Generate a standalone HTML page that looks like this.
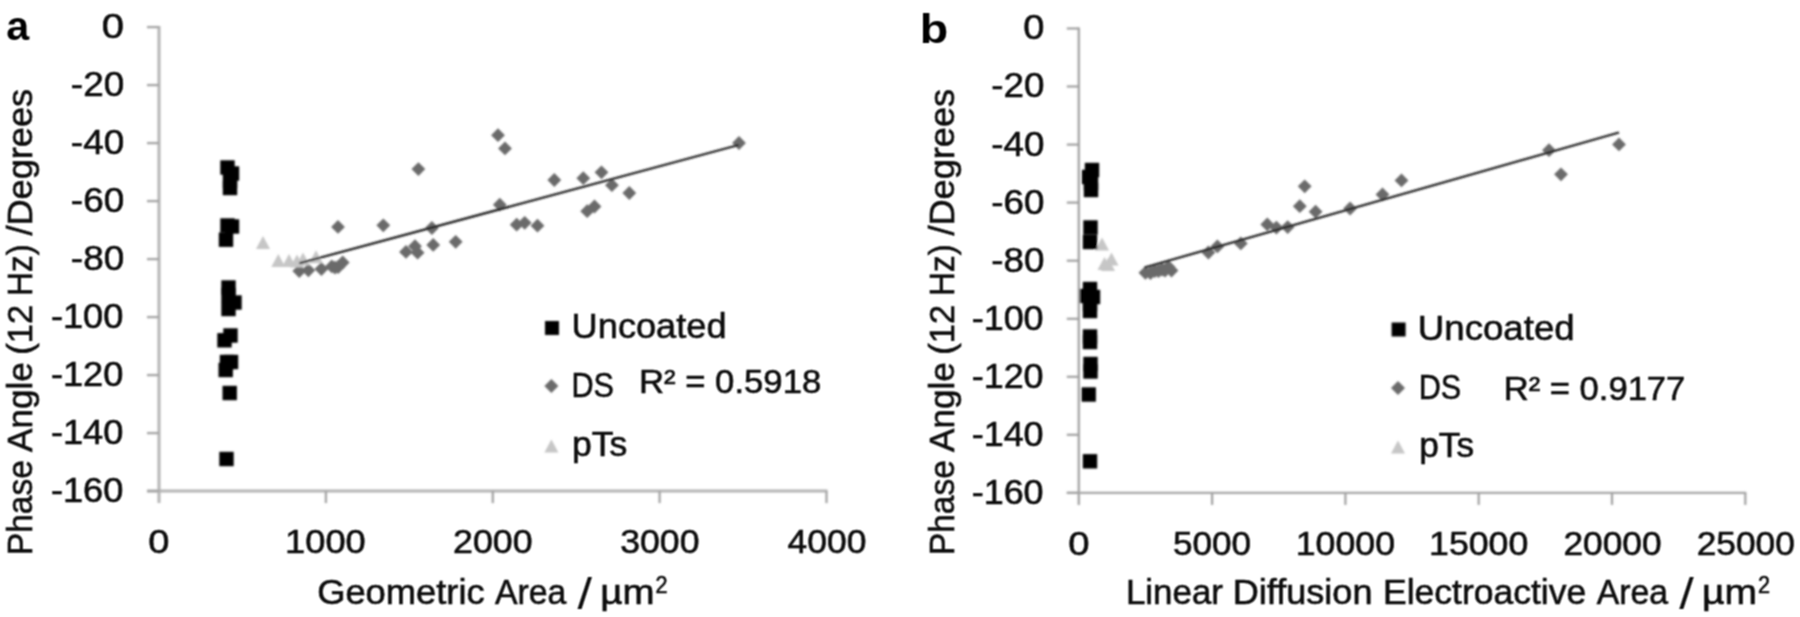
<!DOCTYPE html>
<html lang="en"><head><meta charset="utf-8"><title>Phase angle vs area</title>
<style>html,body{margin:0;padding:0;background:#fff}body{width:1800px;height:617px;overflow:hidden}svg{display:block}text{font-family:"Liberation Sans",sans-serif;fill:#111;stroke:#111;stroke-width:0.6px}.b{font-weight:bold;fill:#000;stroke:none}.n{stroke:none}</style></head><body>
<svg width="1800" height="617" viewBox="0 0 1800 617">
<defs><filter id="bl" x="-5%" y="-5%" width="110%" height="110%"><feConvolveMatrix order="3" kernelMatrix="1 2 1 2 4 2 1 2 1" divisor="16" edgeMode="duplicate" preserveAlpha="false"/><feConvolveMatrix order="3" kernelMatrix="1 2 1 2 4 2 1 2 1" divisor="16" edgeMode="duplicate" preserveAlpha="false"/></filter><filter id="bt" x="-5%" y="-5%" width="110%" height="110%"><feConvolveMatrix order="3" kernelMatrix="1 2 1 2 4 2 1 2 1" divisor="16" edgeMode="duplicate" preserveAlpha="false"/></filter></defs>
<rect width="1800" height="617" fill="#fff"/>
<g filter="url(#bl)">
<g stroke="#b4b4b4" stroke-width="3.0" fill="none"><path d="M159.0 26.1V503.1"/><path d="M147.0 491.1H827.5"/><path d="M147.0 27.1H159.0" stroke-width="2.3" stroke="#a4a4a4"/><path d="M147.0 85.1H159.0" stroke-width="2.3" stroke="#a4a4a4"/><path d="M147.0 143.1H159.0" stroke-width="2.3" stroke="#a4a4a4"/><path d="M147.0 201.1H159.0" stroke-width="2.3" stroke="#a4a4a4"/><path d="M147.0 259.1H159.0" stroke-width="2.3" stroke="#a4a4a4"/><path d="M147.0 317.1H159.0" stroke-width="2.3" stroke="#a4a4a4"/><path d="M147.0 375.1H159.0" stroke-width="2.3" stroke="#a4a4a4"/><path d="M147.0 433.1H159.0" stroke-width="2.3" stroke="#a4a4a4"/><path d="M147.0 491.1H159.0" stroke-width="2.3" stroke="#a4a4a4"/><path d="M325.9 491.1V503.1" stroke-width="2.3" stroke="#a4a4a4"/><path d="M492.8 491.1V503.1" stroke-width="2.3" stroke="#a4a4a4"/><path d="M659.6 491.1V503.1" stroke-width="2.3" stroke="#a4a4a4"/><path d="M826.5 491.1V503.1" stroke-width="2.3" stroke="#a4a4a4"/></g>
<g stroke="#a6a6a6" stroke-width="2.4" fill="none"><path d="M1078.8 27.5V504.9"/><path d="M1066.8 492.9H1746.3"/><path d="M1066.8 28.5H1078.8" stroke-width="2.2" stroke="#a0a0a0"/><path d="M1066.8 86.5H1078.8" stroke-width="2.2" stroke="#a0a0a0"/><path d="M1066.8 144.6H1078.8" stroke-width="2.2" stroke="#a0a0a0"/><path d="M1066.8 202.6H1078.8" stroke-width="2.2" stroke="#a0a0a0"/><path d="M1066.8 260.7H1078.8" stroke-width="2.2" stroke="#a0a0a0"/><path d="M1066.8 318.8H1078.8" stroke-width="2.2" stroke="#a0a0a0"/><path d="M1066.8 376.8H1078.8" stroke-width="2.2" stroke="#a0a0a0"/><path d="M1066.8 434.8H1078.8" stroke-width="2.2" stroke="#a0a0a0"/><path d="M1066.8 492.9H1078.8" stroke-width="2.2" stroke="#a0a0a0"/><path d="M1212.1 492.9V504.9" stroke-width="2.2" stroke="#a0a0a0"/><path d="M1345.4 492.9V504.9" stroke-width="2.2" stroke="#a0a0a0"/><path d="M1478.7 492.9V504.9" stroke-width="2.2" stroke="#a0a0a0"/><path d="M1612.0 492.9V504.9" stroke-width="2.2" stroke="#a0a0a0"/><path d="M1745.3 492.9V504.9" stroke-width="2.2" stroke="#a0a0a0"/></g>
<g fill="#6b6b6b"><path d="M338.0 220.0L344.9 226.9L338.0 233.8L331.1 226.9Z"/><path d="M383.3 218.4L390.2 225.3L383.3 232.2L376.4 225.3Z"/><path d="M299.3 264.1L306.2 271.0L299.3 277.9L292.4 271.0Z"/><path d="M308.4 263.4L315.3 270.3L308.4 277.2L301.5 270.3Z"/><path d="M321.4 262.1L328.3 269.0L321.4 275.9L314.5 269.0Z"/><path d="M331.8 259.5L338.7 266.4L331.8 273.3L324.9 266.4Z"/><path d="M335.0 260.7L341.9 267.6L335.0 274.5L328.1 267.6Z"/><path d="M338.2 260.1L345.1 267.0L338.2 273.9L331.3 267.0Z"/><path d="M342.7 255.6L349.6 262.5L342.7 269.4L335.8 262.5Z"/><path d="M418.4 162.2L425.3 169.1L418.4 176.0L411.5 169.1Z"/><path d="M406.0 245.0L412.9 251.9L406.0 258.8L399.1 251.9Z"/><path d="M415.0 239.3L421.9 246.2L415.0 253.1L408.1 246.2Z"/><path d="M417.6 245.8L424.5 252.7L417.6 259.6L410.7 252.7Z"/><path d="M431.9 221.1L438.8 228.0L431.9 234.9L425.0 228.0Z"/><path d="M433.2 238.0L440.1 244.9L433.2 251.8L426.3 244.9Z"/><path d="M455.7 234.9L462.6 241.8L455.7 248.7L448.8 241.8Z"/><path d="M498.0 128.3L504.9 135.2L498.0 142.1L491.1 135.2Z"/><path d="M505.0 141.5L511.9 148.4L505.0 155.3L498.1 148.4Z"/><path d="M499.8 197.8L506.7 204.7L499.8 211.6L492.9 204.7Z"/><path d="M516.7 217.8L523.6 224.7L516.7 231.6L509.8 224.7Z"/><path d="M524.7 215.9L531.6 222.8L524.7 229.7L517.8 222.8Z"/><path d="M537.5 218.8L544.4 225.7L537.5 232.6L530.6 225.7Z"/><path d="M554.3 173.1L561.2 180.0L554.3 186.9L547.4 180.0Z"/><path d="M583.3 171.3L590.2 178.2L583.3 185.1L576.4 178.2Z"/><path d="M601.5 165.4L608.4 172.3L601.5 179.2L594.6 172.3Z"/><path d="M611.9 178.3L618.8 185.2L611.9 192.1L605.0 185.2Z"/><path d="M629.3 186.1L636.2 193.0L629.3 199.9L622.4 193.0Z"/><path d="M587.2 204.3L594.1 211.2L587.2 218.1L580.3 211.2Z"/><path d="M594.5 199.6L601.4 206.5L594.5 213.4L587.6 206.5Z"/><path d="M739.0 136.1L745.9 143.0L739.0 149.9L732.1 143.0Z"/></g>
<g fill="#c6c6c6"><path d="M263.0 236.1L270.0 249.1L256.0 249.1Z"/><path d="M278.3 253.9L285.3 266.9L271.3 266.9Z"/><path d="M289.0 253.9L296.0 266.9L282.0 266.9Z"/><path d="M297.0 254.5L304.0 267.5L290.0 267.5Z"/><path d="M303.0 252.5L310.0 265.5L296.0 265.5Z"/><path d="M316.0 250.3L323.0 263.3L309.0 263.3Z"/></g>
<path d="M299.3 263.3L738.5 145" stroke="#1a1a1a" stroke-width="2.2" fill="none"/>
<g fill="#000"><rect x="220.3" y="160.3" width="14.4" height="14.4"/><rect x="224.8" y="166.3" width="14.4" height="14.4"/><rect x="222.8" y="173.8" width="14.4" height="14.4"/><rect x="222.8" y="180.8" width="14.4" height="14.4"/><rect x="220.3" y="218.3" width="14.4" height="14.4"/><rect x="224.8" y="219.3" width="14.4" height="14.4"/><rect x="218.8" y="232.5" width="14.4" height="14.4"/><rect x="221.3" y="280.3" width="14.4" height="14.4"/><rect x="221.3" y="287.8" width="14.4" height="14.4"/><rect x="227.3" y="295.3" width="14.4" height="14.4"/><rect x="221.3" y="301.8" width="14.4" height="14.4"/><rect x="223.3" y="328.3" width="14.4" height="14.4"/><rect x="217.3" y="333.1" width="14.4" height="14.4"/><rect x="219.8" y="354.8" width="14.4" height="14.4"/><rect x="223.8" y="354.8" width="14.4" height="14.4"/><rect x="218.5" y="362.8" width="14.4" height="14.4"/><rect x="222.5" y="385.8" width="14.4" height="14.4"/><rect x="219.3" y="451.8" width="14.4" height="14.4"/></g>
<g fill="#6b6b6b"><path d="M1145.4 265.9L1152.3 272.8L1145.4 279.7L1138.5 272.8Z"/><path d="M1150.5 266.1L1157.4 273.0L1150.5 279.9L1143.6 273.0Z"/><path d="M1154.7 264.1L1161.6 271.0L1154.7 277.9L1147.8 271.0Z"/><path d="M1158.5 264.1L1165.4 271.0L1158.5 277.9L1151.6 271.0Z"/><path d="M1162.0 262.6L1168.9 269.5L1162.0 276.4L1155.1 269.5Z"/><path d="M1165.0 263.6L1171.9 270.5L1165.0 277.4L1158.1 270.5Z"/><path d="M1168.5 260.1L1175.4 267.0L1168.5 273.9L1161.6 267.0Z"/><path d="M1171.5 263.6L1178.4 270.5L1171.5 277.4L1164.6 270.5Z"/><path d="M1208.4 245.6L1215.3 252.5L1208.4 259.4L1201.5 252.5Z"/><path d="M1217.4 239.5L1224.3 246.4L1217.4 253.3L1210.5 246.4Z"/><path d="M1240.8 236.5L1247.7 243.4L1240.8 250.3L1233.9 243.4Z"/><path d="M1267.3 217.5L1274.2 224.4L1267.3 231.3L1260.4 224.4Z"/><path d="M1276.4 220.7L1283.3 227.6L1276.4 234.5L1269.5 227.6Z"/><path d="M1287.7 220.2L1294.6 227.1L1287.7 234.0L1280.8 227.1Z"/><path d="M1299.8 199.3L1306.7 206.2L1299.8 213.1L1292.9 206.2Z"/><path d="M1304.7 179.4L1311.6 186.3L1304.7 193.2L1297.8 186.3Z"/><path d="M1315.6 204.8L1322.5 211.7L1315.6 218.6L1308.7 211.7Z"/><path d="M1350.1 201.6L1357.0 208.5L1350.1 215.4L1343.2 208.5Z"/><path d="M1382.5 187.6L1389.4 194.5L1382.5 201.4L1375.6 194.5Z"/><path d="M1401.5 173.5L1408.4 180.4L1401.5 187.3L1394.6 180.4Z"/><path d="M1549.0 143.3L1555.9 150.2L1549.0 157.1L1542.1 150.2Z"/><path d="M1561.0 167.4L1567.9 174.3L1561.0 181.2L1554.1 174.3Z"/><path d="M1619.0 137.5L1625.9 144.4L1619.0 151.3L1612.1 144.4Z"/></g>
<g fill="#c6c6c6"><path d="M1102.0 237.5L1109.0 250.5L1095.0 250.5Z"/><path d="M1104.5 257.0L1111.5 270.0L1097.5 270.0Z"/><path d="M1108.0 258.0L1115.0 271.0L1101.0 271.0Z"/><path d="M1111.5 252.5L1118.5 265.5L1104.5 265.5Z"/></g>
<path d="M1144.5 267.5L1619 132.5" stroke="#1a1a1a" stroke-width="2.2" fill="none"/>
<g fill="#000"><rect x="1084.8" y="162.8" width="14.4" height="14.4"/><rect x="1081.8" y="169.8" width="14.4" height="14.4"/><rect x="1083.8" y="175.8" width="14.4" height="14.4"/><rect x="1083.8" y="182.8" width="14.4" height="14.4"/><rect x="1083.3" y="220.3" width="14.4" height="14.4"/><rect x="1082.8" y="234.8" width="14.4" height="14.4"/><rect x="1082.8" y="281.8" width="14.4" height="14.4"/><rect x="1079.8" y="288.8" width="14.4" height="14.4"/><rect x="1085.8" y="289.8" width="14.4" height="14.4"/><rect x="1082.8" y="296.8" width="14.4" height="14.4"/><rect x="1082.8" y="303.8" width="14.4" height="14.4"/><rect x="1082.8" y="329.3" width="14.4" height="14.4"/><rect x="1082.8" y="334.8" width="14.4" height="14.4"/><rect x="1083.3" y="356.8" width="14.4" height="14.4"/><rect x="1083.3" y="364.3" width="14.4" height="14.4"/><rect x="1081.5" y="387.3" width="14.4" height="14.4"/><rect x="1082.8" y="454.1" width="14.4" height="14.4"/></g>
<g fill="#000"><rect x="545.0" y="321.0" width="14" height="14"/><rect x="1391.6" y="322.5" width="14" height="14"/></g>
<g fill="#6b6b6b"><path d="M551.4 379.1L558.4 386.1L551.4 393.1L544.4 386.1Z"/><path d="M1398.0 381.0L1405.0 388.0L1398.0 395.0L1391.0 388.0Z"/></g>
<g fill="#c6c6c6"><path d="M551.4 439.4L558.4 452.4L544.4 452.4Z"/><path d="M1398.0 440.5L1405.0 453.5L1391.0 453.5Z"/></g>
</g><g filter="url(#bt)">
<text transform="translate(18.45 40.3) scale(1.019 1)" x="-12.00" y="0" font-size="40.5" class="b">a</text>
<text transform="translate(113.00 38.3) scale(1.143 1)" x="-9.75" y="0" font-size="35">0</text>
<text x="70.88" y="96.3" font-size="35" textLength="53.27" lengthAdjust="spacingAndGlyphs">-20</text>
<text x="70.88" y="154.3" font-size="35" textLength="53.27" lengthAdjust="spacingAndGlyphs">-40</text>
<text x="70.88" y="212.3" font-size="35" textLength="53.27" lengthAdjust="spacingAndGlyphs">-60</text>
<text x="70.88" y="270.3" font-size="35" textLength="53.27" lengthAdjust="spacingAndGlyphs">-80</text>
<text x="50.91" y="328.3" font-size="35" textLength="72.39" lengthAdjust="spacingAndGlyphs">-100</text>
<text x="50.91" y="386.3" font-size="35" textLength="72.39" lengthAdjust="spacingAndGlyphs">-120</text>
<text x="50.91" y="444.3" font-size="35" textLength="72.39" lengthAdjust="spacingAndGlyphs">-140</text>
<text x="50.91" y="502.3" font-size="35" textLength="72.39" lengthAdjust="spacingAndGlyphs">-160</text>
<text transform="translate(31.6 0) rotate(-90)"><tspan x="-555.23" y="0" font-size="34.5" textLength="95.18" lengthAdjust="spacingAndGlyphs">Phase</tspan> <tspan x="-451.95" y="0" font-size="34.5" textLength="89.72" lengthAdjust="spacingAndGlyphs">Angle</tspan> <tspan x="-354.65" y="0" font-size="34.5" textLength="49.82" lengthAdjust="spacingAndGlyphs">(12</tspan> <tspan x="-296.01" y="0" font-size="34.5" textLength="51.71" lengthAdjust="spacingAndGlyphs">Hz)</tspan> <tspan x="-235.54" y="0" font-size="34.5" textLength="146.69" lengthAdjust="spacingAndGlyphs">/Degrees</tspan></text>
<text transform="translate(158.80 552.9) scale(1.118 1)" x="-9.50" y="0" font-size="34">0</text>
<text x="285.13" y="552.9" font-size="34" textLength="80.65" lengthAdjust="spacingAndGlyphs">1000</text>
<text x="453.09" y="552.9" font-size="34" textLength="79.55" lengthAdjust="spacingAndGlyphs">2000</text>
<text x="620.23" y="552.9" font-size="34" textLength="79.28" lengthAdjust="spacingAndGlyphs">3000</text>
<text x="787.63" y="552.9" font-size="34" textLength="78.75" lengthAdjust="spacingAndGlyphs">4000</text>
<text><tspan x="317.17" y="603.5" font-size="34.5" textLength="167.49" lengthAdjust="spacingAndGlyphs">Geometric</tspan> <tspan x="494.94" y="603.5" font-size="34.5" textLength="71.39" lengthAdjust="spacingAndGlyphs">Area</tspan> <tspan x="577.45" y="609.2" font-size="43.5" class="n" textLength="14.51" lengthAdjust="spacingAndGlyphs">/</tspan> <tspan x="600.37" y="603.5" font-size="34.5" textLength="54.22" lengthAdjust="spacingAndGlyphs">µm</tspan> <tspan x="655.41" y="592.5" font-size="23.5" textLength="12.05" lengthAdjust="spacingAndGlyphs">2</tspan></text>
<text x="571.64" y="338.3" font-size="34.5" textLength="154.89" lengthAdjust="spacingAndGlyphs">Uncoated</text>
<text x="571.49" y="396.6" font-size="34.5" textLength="42.47" lengthAdjust="spacingAndGlyphs">DS</text>
<text x="639.01" y="392.6" font-size="33.5" textLength="182.22" lengthAdjust="spacingAndGlyphs">R² = 0.5918</text>
<text x="571.90" y="455.9" font-size="34.5" textLength="55.37" lengthAdjust="spacingAndGlyphs">pTs</text>
<text transform="translate(934.60 42.5) scale(1.124 1)" x="-13.25" y="0" font-size="41.5" class="b">b</text>
<text transform="translate(1033.80 39.4) scale(1.086 1)" x="-9.75" y="0" font-size="35">0</text>
<text x="991.39" y="97.45" font-size="35" textLength="53.06" lengthAdjust="spacingAndGlyphs">-20</text>
<text x="991.39" y="155.5" font-size="35" textLength="53.06" lengthAdjust="spacingAndGlyphs">-40</text>
<text x="991.39" y="213.55" font-size="35" textLength="53.06" lengthAdjust="spacingAndGlyphs">-60</text>
<text x="991.39" y="271.6" font-size="35" textLength="53.06" lengthAdjust="spacingAndGlyphs">-80</text>
<text x="971.72" y="329.65" font-size="35" textLength="71.87" lengthAdjust="spacingAndGlyphs">-100</text>
<text x="971.72" y="387.7" font-size="35" textLength="71.87" lengthAdjust="spacingAndGlyphs">-120</text>
<text x="971.72" y="445.75" font-size="35" textLength="71.87" lengthAdjust="spacingAndGlyphs">-140</text>
<text x="971.72" y="503.8" font-size="35" textLength="71.87" lengthAdjust="spacingAndGlyphs">-160</text>
<text transform="translate(953.5 0) rotate(-90)"><tspan x="-555.23" y="0" font-size="34.5" textLength="95.18" lengthAdjust="spacingAndGlyphs">Phase</tspan> <tspan x="-451.95" y="0" font-size="34.5" textLength="89.72" lengthAdjust="spacingAndGlyphs">Angle</tspan> <tspan x="-354.65" y="0" font-size="34.5" textLength="49.82" lengthAdjust="spacingAndGlyphs">(12</tspan> <tspan x="-296.01" y="0" font-size="34.5" textLength="51.71" lengthAdjust="spacingAndGlyphs">Hz)</tspan> <tspan x="-235.54" y="0" font-size="34.5" textLength="146.69" lengthAdjust="spacingAndGlyphs">/Degrees</tspan></text>
<text transform="translate(1078.80 554.8) scale(1.124 1)" x="-9.50" y="0" font-size="34">0</text>
<text x="1173.02" y="554.8" font-size="34" textLength="78.05" lengthAdjust="spacingAndGlyphs">5000</text>
<text x="1295.74" y="554.8" font-size="34" textLength="99.26" lengthAdjust="spacingAndGlyphs">10000</text>
<text x="1429.04" y="554.8" font-size="34" textLength="99.26" lengthAdjust="spacingAndGlyphs">15000</text>
<text x="1563.40" y="554.8" font-size="34" textLength="98.19" lengthAdjust="spacingAndGlyphs">20000</text>
<text x="1696.70" y="554.8" font-size="34" textLength="98.19" lengthAdjust="spacingAndGlyphs">25000</text>
<text><tspan x="1125.97" y="603.5" font-size="34.5" textLength="96.99" lengthAdjust="spacingAndGlyphs">Linear</tspan> <tspan x="1232.79" y="603.5" font-size="34.5" textLength="139.66" lengthAdjust="spacingAndGlyphs">Diffusion</tspan> <tspan x="1383.03" y="603.5" font-size="34.5" textLength="203.16" lengthAdjust="spacingAndGlyphs">Electroactive</tspan> <tspan x="1596.74" y="603.5" font-size="34.5" textLength="71.39" lengthAdjust="spacingAndGlyphs">Area</tspan> <tspan x="1679.25" y="609.2" font-size="43.5" class="n" textLength="14.51" lengthAdjust="spacingAndGlyphs">/</tspan> <tspan x="1702.14" y="603.5" font-size="34.5" textLength="54.98" lengthAdjust="spacingAndGlyphs">µm</tspan> <tspan x="1758.01" y="592.5" font-size="23.5" textLength="12.05" lengthAdjust="spacingAndGlyphs">2</tspan></text>
<text x="1417.81" y="339.5" font-size="34.5" textLength="156.85" lengthAdjust="spacingAndGlyphs">Uncoated</text>
<text x="1418.79" y="398.8" font-size="34.5" textLength="42.47" lengthAdjust="spacingAndGlyphs">DS</text>
<text x="1503.82" y="400.2" font-size="33.5" textLength="181.47" lengthAdjust="spacingAndGlyphs">R² = 0.9177</text>
<text x="1419.21" y="456.5" font-size="34.5" textLength="54.85" lengthAdjust="spacingAndGlyphs">pTs</text>
</g></svg></body></html>
